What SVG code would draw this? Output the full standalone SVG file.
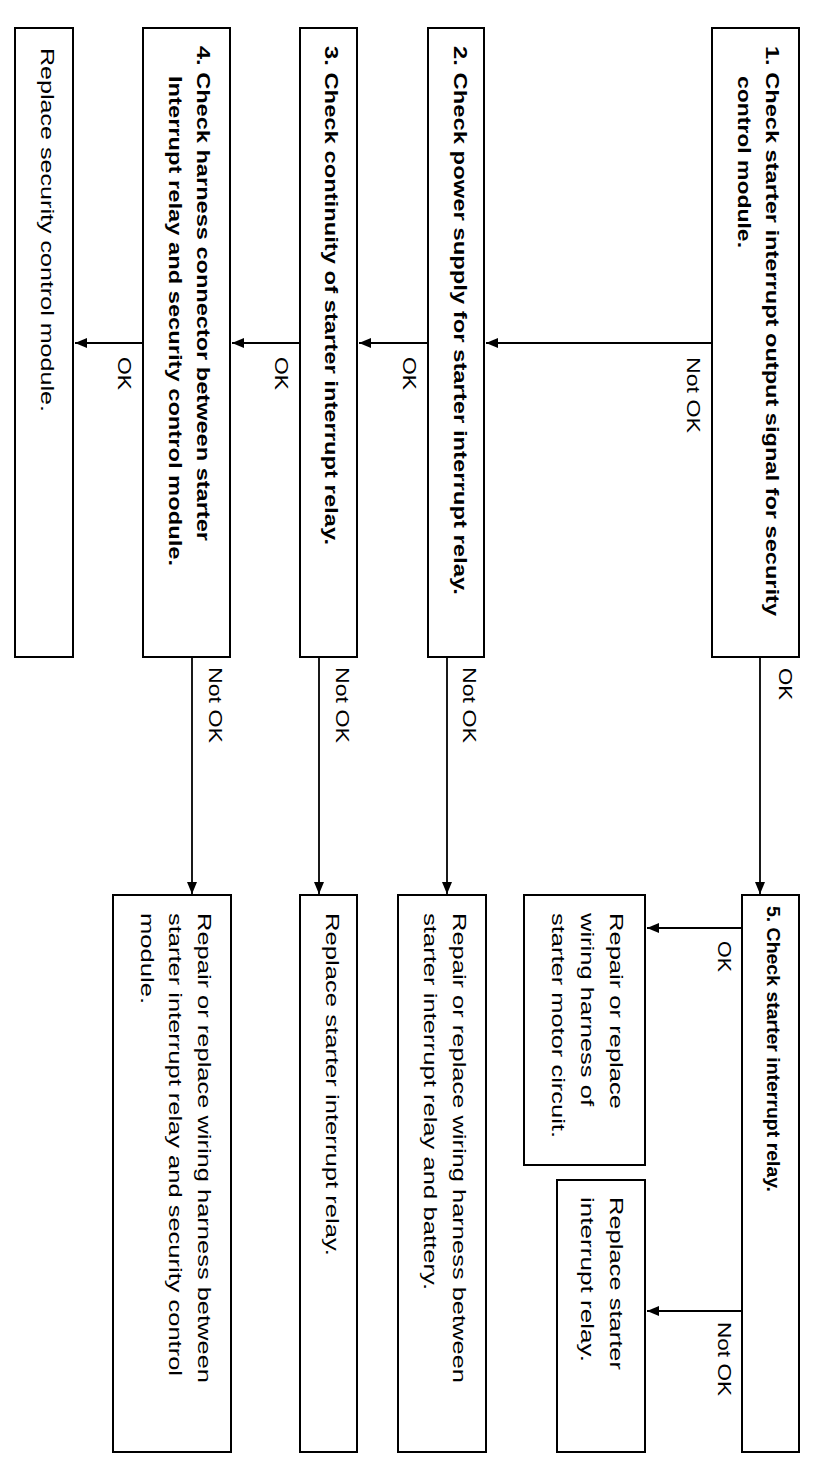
<svg xmlns="http://www.w3.org/2000/svg" width="814" height="1472" viewBox="0 0 814 1472">
<style>
.box{fill:#fff;stroke:#000;stroke-width:2}
.ln{fill:none;stroke:#000;stroke-width:1.8;marker-end:url(#ah)}
.b{font-family:"Liberation Sans",Arial,sans-serif;font-weight:bold;font-size:17.5px;fill:#000}
.r{font-family:"Liberation Sans",Arial,sans-serif;font-size:19px;fill:#000}
.lb{font-family:"Liberation Sans",Arial,sans-serif;font-size:18.5px;fill:#000}
</style>
<defs>
<marker id="ah" markerWidth="12" markerHeight="10" refX="12" refY="5" orient="auto" markerUnits="userSpaceOnUse">
<path d="M0,0 L12,5 L0,10 z" fill="#000"/>
</marker>
</defs>
<rect width="814" height="1472" fill="#fff"/>

<g id="connectors">
<line class="ln" x1="712" y1="343" x2="486" y2="343"/>
<line class="ln" x1="428" y1="343" x2="359" y2="343"/>
<line class="ln" x1="300" y1="343" x2="232" y2="343"/>
<line class="ln" x1="143" y1="343" x2="75" y2="343"/>
<line class="ln" x1="760" y1="657" x2="760" y2="894"/>
<line class="ln" x1="447" y1="657" x2="447" y2="894"/>
<line class="ln" x1="319" y1="657" x2="319" y2="894"/>
<line class="ln" x1="192" y1="657" x2="192" y2="894"/>
<line class="ln" x1="742" y1="928" x2="647" y2="928"/>
<line class="ln" x1="742" y1="1311" x2="647" y2="1311"/>
<text class="lb" transform="translate(687,357) rotate(90)" textLength="76" lengthAdjust="spacingAndGlyphs">Not OK</text>
<text class="lb" transform="translate(403,357) rotate(90)" textLength="33" lengthAdjust="spacingAndGlyphs">OK</text>
<text class="lb" transform="translate(275,357) rotate(90)" textLength="33" lengthAdjust="spacingAndGlyphs">OK</text>
<text class="lb" transform="translate(118,357) rotate(90)" textLength="33" lengthAdjust="spacingAndGlyphs">OK</text>
<text class="lb" transform="translate(779,668) rotate(90)" textLength="32" lengthAdjust="spacingAndGlyphs">OK</text>
<text class="lb" transform="translate(463,667) rotate(90)" textLength="76" lengthAdjust="spacingAndGlyphs">Not OK</text>
<text class="lb" transform="translate(336,667) rotate(90)" textLength="76" lengthAdjust="spacingAndGlyphs">Not OK</text>
<text class="lb" transform="translate(209,667) rotate(90)" textLength="76" lengthAdjust="spacingAndGlyphs">Not OK</text>
<text class="lb" transform="translate(718,941) rotate(90)" textLength="31" lengthAdjust="spacingAndGlyphs">OK</text>
<text class="lb" transform="translate(718,1322) rotate(90)" textLength="74" lengthAdjust="spacingAndGlyphs">Not OK</text>
</g>

<g id="n1">
<rect class="box" x="712" y="28" width="87" height="629"/>
<text class="b" transform="translate(766,46) rotate(90)" textLength="570" lengthAdjust="spacingAndGlyphs">1. Check starter interrupt output signal for security</text>
<text class="b" transform="translate(738,76) rotate(90)" textLength="172" lengthAdjust="spacingAndGlyphs">control module.</text>
</g>

<g id="n2">
<rect class="box" x="428" y="28" width="56" height="629"/>
<text class="b" transform="translate(454,46) rotate(90)" textLength="549" lengthAdjust="spacingAndGlyphs">2. Check power supply for starter interrupt relay.</text>
</g>

<g id="n3">
<rect class="box" x="300" y="28" width="57" height="629"/>
<text class="b" transform="translate(325,46) rotate(90)" textLength="499" lengthAdjust="spacingAndGlyphs">3. Check continuity of starter interrupt relay.</text>
</g>

<g id="n4">
<rect class="box" x="143" y="28" width="87" height="629"/>
<text class="b" transform="translate(197,46) rotate(90)" textLength="495" lengthAdjust="spacingAndGlyphs">4. Check harness connector between starter</text>
<text class="b" transform="translate(169,76) rotate(90)" textLength="490" lengthAdjust="spacingAndGlyphs">Interrupt relay and security control module.</text>
</g>

<g id="n-replace-scm">
<rect class="box" x="15" y="28" width="58" height="629"/>
<text class="r" transform="translate(41,48) rotate(90)" textLength="364" lengthAdjust="spacingAndGlyphs">Replace security control module.</text>
</g>

<g id="n5">
<rect class="box" x="742" y="895" width="57" height="557"/>
<text class="b" transform="translate(767,906) rotate(90)" textLength="286" lengthAdjust="spacingAndGlyphs">5. Check starter interrupt relay.</text>
</g>

<g id="n-motor">
<rect class="box" x="524" y="895" width="121" height="270"/>
<text class="r" transform="translate(610,913) rotate(90)" textLength="196" lengthAdjust="spacingAndGlyphs">Repair or replace</text>
<text class="r" transform="translate(581,913) rotate(90)" textLength="193" lengthAdjust="spacingAndGlyphs">wiring harness of</text>
<text class="r" transform="translate(552,913) rotate(90)" textLength="225" lengthAdjust="spacingAndGlyphs">starter motor circuit.</text>
</g>

<g id="n-replace-relay-a">
<rect class="box" x="557" y="1180" width="88" height="272"/>
<text class="r" transform="translate(610,1197) rotate(90)" textLength="173" lengthAdjust="spacingAndGlyphs">Replace starter</text>
<text class="r" transform="translate(581,1197) rotate(90)" textLength="165" lengthAdjust="spacingAndGlyphs">interrupt relay.</text>
</g>

<g id="n-battery">
<rect class="box" x="398" y="895" width="88" height="557"/>
<text class="r" transform="translate(453,913) rotate(90)" textLength="470" lengthAdjust="spacingAndGlyphs">Repair or replace wiring harness between</text>
<text class="r" transform="translate(424,913) rotate(90)" textLength="377" lengthAdjust="spacingAndGlyphs">starter interrupt relay and battery.</text>
</g>

<g id="n-replace-relay-b">
<rect class="box" x="300" y="895" width="57" height="557"/>
<text class="r" transform="translate(326,913) rotate(90)" textLength="343" lengthAdjust="spacingAndGlyphs">Replace starter interrupt relay.</text>
</g>

<g id="n-security">
<rect class="box" x="113" y="895" width="118" height="557"/>
<text class="r" transform="translate(198,913) rotate(90)" textLength="470" lengthAdjust="spacingAndGlyphs">Repair or replace wiring harness between</text>
<text class="r" transform="translate(169,913) rotate(90)" textLength="463" lengthAdjust="spacingAndGlyphs">starter interrupt relay and security control</text>
<text class="r" transform="translate(141,913) rotate(90)" textLength="91" lengthAdjust="spacingAndGlyphs">module.</text>
</g>
</svg>
